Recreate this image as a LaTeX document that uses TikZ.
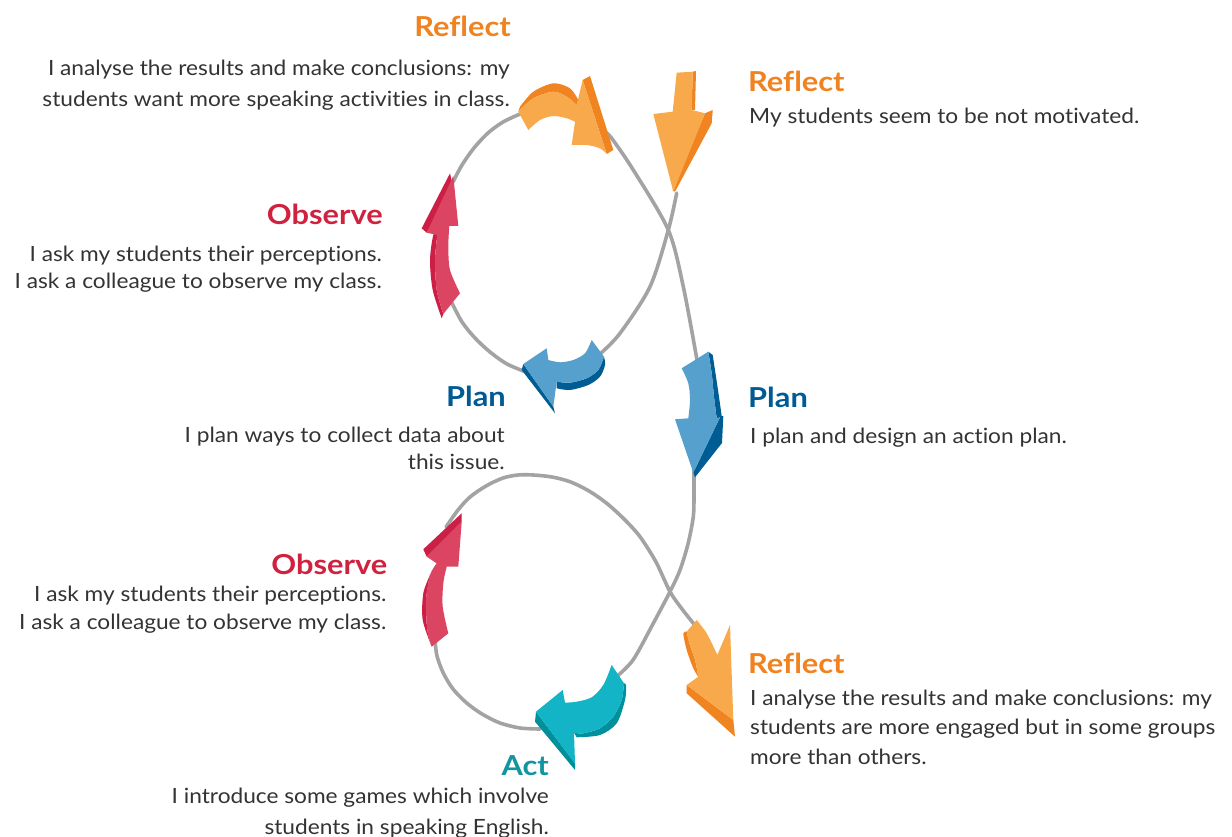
\documentclass[tikz,border=0pt]{standalone}
\usepackage{fontspec}
\setmainfont{Lato}[FakeStretch=1.08,RawFeature={-liga;-clig;-calt;-dlig}]
\newfontfamily\headfont{Lato}[FakeStretch=1.12,RawFeature={-liga;-clig;-calt;-dlig}]
\definecolor{txt}{HTML}{333333}
\definecolor{loop}{HTML}{A3A3A3}
\definecolor{orangeH}{HTML}{F08220}
\definecolor{orangeL}{HTML}{F8A94B}
\definecolor{orangeD}{HTML}{EF8421}
\definecolor{redH}{HTML}{D0213F}
\definecolor{redL}{HTML}{DB4562}
\definecolor{redD}{HTML}{CC1F45}
\definecolor{blueH}{HTML}{005B94}
\definecolor{blueL}{HTML}{55A0CD}
\definecolor{blueD}{HTML}{005D93}
\definecolor{tealH}{HTML}{11959F}
\definecolor{tealL}{HTML}{12B4C6}
\definecolor{tealD}{HTML}{00909C}
\begin{document}
\begin{tikzpicture}[x=1pt,y=-1pt,
  loopline/.style={draw=loop,line width=3.6pt,line cap=round},
  head/.style={font=\headfont\fontsize{27.5}{33}\selectfont\bfseries,inner sep=0pt},
  body/.style={text=txt,inner sep=0pt}]
\useasboundingbox (0,0) rectangle (1232,837);
\fill[white] (0,0) rectangle (1232,837);

% ---- the grey spiral, drawn in pieces between the arrows ----
\draw[loopline] plot[smooth] coordinates {(676.7,193) (668.3,230) (650,286.7) (620,333.3) (600,354)};
\draw[loopline] plot[smooth] coordinates {(452,303) (462,322) (475,338) (490,352) (507,364) (526,372)};
\draw[loopline] plot[smooth] coordinates {(453,182) (462,165) (474,148) (488,133) (503,122) (520,114)};
\draw[loopline] plot[smooth] coordinates {(605,132) (611.7,138.3) (633.3,170) (668.3,230) (683.3,286.7) (697,360)};
\draw[loopline] plot[smooth] coordinates {(694,470) (694,495) (693.3,516.7) (688,544) (680,570) (670,591.7) (653.3,623.3) (633,660) (615,678)};
\draw[loopline] plot[smooth] coordinates {(540,729) (520,728) (500,723) (482,714) (466.7,703) (453,689) (443.3,673) (437,656) (435,640)};
\draw[loopline] plot[smooth] coordinates {(446,527) (458,510) (470,497) (486,486) (503,478) (518,475) (533.3,475) (552,477) (570,481.7) (589,491) (606.7,503.3) (624,519) (640,536.7) (656,562) (670,591.7) (682,609) (693.3,623.3) (700,632)};

% ---- Reflect, straight arrow at the top right ----
\fill[orangeD] (692.7,71.7) -- (696,71) -- (695,110) -- (691.7,110) -- cycle;
\fill[orangeD] (705,113.3) -- (712.7,110) -- (711.7,123.3) -- (675,191.7) -- (672.7,190.7) -- cycle;
\fill[orangeL] (676.7,72.7) -- (692.7,71.7) -- (691.7,110) -- (705,113.3) -- (673.3,191.7) -- (653.3,114) -- (672.7,111.7) -- cycle;

% ---- Reflect, curved arrow at the top ----
\fill[orangeD] (518.3,111.7) -- (520,106.7) -- plot[smooth] coordinates {(520,106.7) (533.3,91.7) (553.3,83.3) (570,88.3) (578.3,100)} -- (576.7,105) -- plot[smooth] coordinates {(576.7,105) (566.7,96.7) (553.3,91.7) (533.3,98.3) (518.3,111.7)} -- cycle;
\fill[orangeD] (582.7,80) -- (590,76) -- (613.3,150) -- (606.7,154) -- cycle;
\fill[orangeL] (528.3,130) -- plot[smooth] coordinates {(528.3,130) (540,120) (553.3,116) (566.7,118.3) (575,121.7)} -- (571.7,145) -- plot[smooth] coordinates {(571.7,145) (586.7,145) (600,148.3) (606.7,154)} -- (582.7,80) -- (576.7,105) -- plot[smooth] coordinates {(576.7,105) (566.7,96.7) (553.3,91.7) (533.3,98.3) (518.3,111.7)} -- cycle;

% ---- Observe, upper red arrow ----
\fill[redD] (450,173.3) -- (421.7,228.3) -- (426.7,232.7) -- (452.7,185) -- cycle;
\fill[redD] plot[smooth] coordinates {(437.3,235) (433.3,235) (430,260) (432.7,290) (441.7,318.3)} -- (443.3,314) -- plot[smooth] coordinates {(443.3,314) (436.7,290) (435,260) (437.3,235)} -- cycle;
\fill[redL] (453.3,176) -- (458.3,226) -- (449.3,226) -- plot[smooth] coordinates {(449.3,226) (448.3,246.7) (450,270) (460,293.3)} -- (443.3,314) -- plot[smooth] coordinates {(443.3,314) (436.7,290) (435,260) (437.3,235)} -- (426.7,232.7) -- cycle;

% ---- Plan, blue arrow on the left ----
\fill[blueD] (523.3,364) -- (553.3,406.7) -- (555,413.3) -- (521.7,370) -- cycle;
\fill[blueD] plot[smooth] coordinates {(604,356.7) (605,365) (600,376.7) (588.3,385) (570,390) (556.7,388.3)} -- (556.7,381.7) -- plot[smooth] coordinates {(556.7,381.7) (570,382.7) (586.7,378.3) (598.3,370) (604,356.7)} -- cycle;
\fill[blueL] (591.7,340) -- (604,356.7) -- plot[smooth] coordinates {(604,356.7) (598.3,370) (586.7,378.3) (570,382.7) (556.7,381.7)} -- (553.3,406.7) -- (523.3,364) -- (546.7,348.3) -- (548.3,360) -- plot[smooth] coordinates {(548.3,360) (560,362.3) (573.3,360) (585,353.3) (591.7,340)} -- cycle;

% ---- Plan, blue arrow on the right ----
\fill[blueD] (708.3,351.7) -- (712.7,355) -- plot[smooth] coordinates {(712.7,355) (718,390) (721.7,416)} -- (723.3,416) -- (722,443) -- (695,477.3) -- (693.3,472.7) -- (720,417.3) -- (716.7,418.3) -- plot[smooth] coordinates {(716.7,418.3) (714,396.7) (711.7,373.3) (708.3,351.7)} -- cycle;
\fill[blueL] (681.7,368.3) -- (708.3,351.7) -- plot[smooth] coordinates {(708.3,351.7) (711.7,373.3) (714,396.7) (716.7,418.3)} -- (720,417.3) -- (693.3,472.7) -- (675,419.3) -- (688.3,418.3) -- plot[smooth] coordinates {(688.3,418.3) (690,400) (688.3,383.3) (681.7,368.3)} -- cycle;

% ---- Observe, lower red arrow ----
\fill[redD] (461.7,513.3) -- (423.3,549.3) -- (426.7,556.7) -- (461.7,521.7) -- cycle;
\fill[redD] plot[smooth] coordinates {(430,575) (423.3,593.3) (422.7,620) (431.7,646.7)} -- plot[smooth] coordinates {(431.7,646.7) (427.3,630) (426,600) (430,575)} -- cycle;
\fill[redL] (461.7,521.7) -- (458.3,566.7) -- (446.7,566.7) -- plot[smooth] coordinates {(446.7,566.7) (443.3,583.3) (442.7,606.7) (448.3,633.3)} -- (431.7,646.7) -- plot[smooth] coordinates {(431.7,646.7) (427.3,630) (426,600) (430,575) (436.7,563.3)} -- (426.7,556.7) -- cycle;

% ---- Act, teal arrow ----
\fill[tealD] (536,711.7) -- (575,763.3) -- (575,770) -- (535,721.7) -- cycle;
\fill[tealD] plot[smooth] coordinates {(624,683.3) (626,685) (625,700) (616.7,723.3) (600,735) (576.7,737.3)} -- (574,732.7) -- plot[smooth] coordinates {(574,732.7) (583.3,733.3) (600,728.3) (613.3,716.7) (621.7,700) (624,683.3)} -- cycle;
\fill[tealL] (611.7,665) -- (624,683.3) -- plot[smooth] coordinates {(624,683.3) (621.7,700) (613.3,716.7) (600,728.3) (583.3,733.3) (574,732.7)} -- (575,763.3) -- (536,711.7) -- (562.7,690) -- (565,702.7) -- plot[smooth] coordinates {(565,702.7) (576.7,701.7) (591.7,697.3) (603.3,685) (611.7,665)} -- cycle;

% ---- Reflect, orange arrow at the bottom ----
\fill[orangeD] (686.7,685) -- (733.3,720) -- (735,736.7) -- (686.7,693.3) -- cycle;
\fill[orangeD] plot[smooth] coordinates {(686.7,631.7) (683.3,633.3) (686.7,650) (693.3,668.3) (698.3,676.7)} -- plot[smooth] coordinates {(698.3,676.7) (695,660) (689.3,643.3) (686.7,631.7)} -- cycle;
\fill[orangeL] (686.7,631.7) -- (696.7,620) -- plot[smooth] coordinates {(696.7,620) (706.7,633.3) (715,650) (717.3,655)} -- (730,625) -- (733.3,720) -- (686.7,685) -- (698.3,676.7) -- plot[smooth] coordinates {(698.3,676.7) (695,660) (689.3,643.3) (686.7,631.7)} -- cycle;

% ---- labels (multi-line blocks sit on the baseline of their last line) ----
\node[head,text=orangeH,anchor=base east] (reflectA) at (511,37) {Reflect};
\node[body,font=\fontsize{21}{31}\selectfont,align=right,anchor=base east] (reflectAtext) at (510,107)
  {I analyse the results and make conclusions: my\\students want more speaking activities in class.};

\node[head,text=orangeH,anchor=base west] (reflectB) at (748,91.7) {Reflect};
\node[body,font=\fontsize{21}{31}\selectfont,align=left,anchor=base west] (reflectBtext) at (749,123.3)
  {My students seem to be not motivated.};

\node[head,text=redH,anchor=base east] (observeA) at (383,225) {Observe};
\node[body,font=\fontsize{21}{26.7}\selectfont,align=right,anchor=base east] (observeAtext) at (382,288.3)
  {I ask my students their perceptions.\\I ask a colleague to observe my class.};

\node[head,text=blueH,anchor=base east] (planA) at (506,406.7) {Plan};
\node[body,font=\fontsize{21}{26.7}\selectfont,align=right,anchor=base east] (planAtext) at (505,469.3)
  {I plan ways to collect data about\\this issue.};

\node[head,text=blueH,anchor=base west] (planB) at (748,407) {Plan};
\node[body,font=\fontsize{21}{31}\selectfont,align=left,anchor=base west] (planBtext) at (750,443.3)
  {I plan and design an action plan.};

\node[head,text=redH,anchor=base east] (observeB) at (387.5,574) {Observe};
\node[body,font=\fontsize{21}{27.6}\selectfont,align=right,anchor=base east] (observeBtext) at (386.5,629.3)
  {I ask my students their perceptions.\\I ask a colleague to observe my class.};

\node[head,text=tealH,anchor=base east] (act) at (549,775) {Act};
\node[body,font=\fontsize{21}{30.7}\selectfont,align=right,anchor=base east] (acttext) at (549,834)
  {I introduce some games which involve\\students in speaking English.};

\node[head,text=orangeH,anchor=base west] (reflectC) at (748,673.3) {Reflect};
\node[body,font=\fontsize{21}{29.5}\selectfont,align=left,anchor=base west] (reflectCtext) at (750,764)
  {I analyse the results and make conclusions: my\\students are more engaged but in some groups\\more than others.};
\end{tikzpicture}
\end{document}
